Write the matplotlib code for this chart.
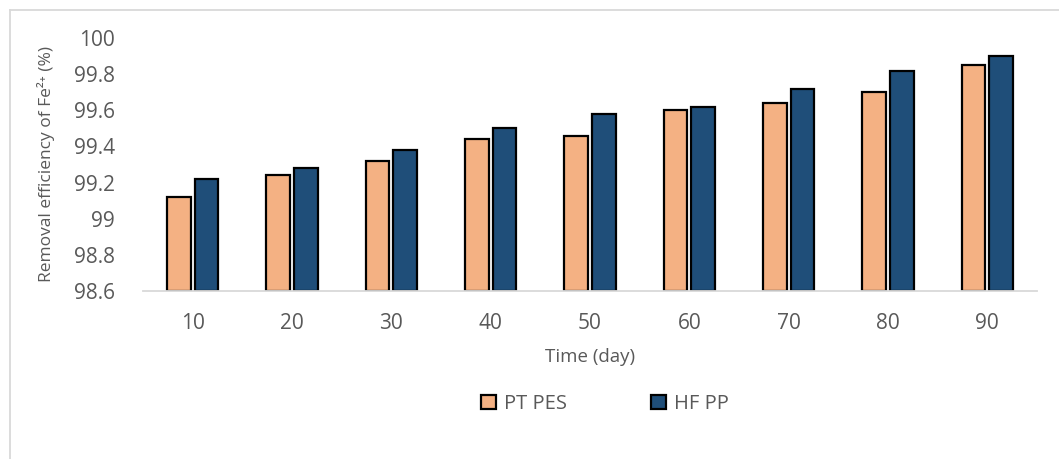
import numpy as np
import matplotlib
matplotlib.use("Agg")
import matplotlib.pyplot as plt
from matplotlib.lines import Line2D

# removal efficiency of Fe2+ over time for the two membranes
days = [10, 20, 30, 40, 50, 60, 70, 80, 90]
pt_pes = [99.12, 99.24, 99.32, 99.44, 99.46, 99.60, 99.64, 99.70, 99.85]
hf_pp = [99.22, 99.28, 99.38, 99.50, 99.58, 99.62, 99.72, 99.82, 99.90]
yticks = [98.6, 98.8, 99.0, 99.2, 99.4, 99.6, 99.8, 100.0]
ytick_labels = ["98.6", "98.8", "99", "99.2", "99.4", "99.6", "99.8", "100"]

TXT = "#595959"
plt.rcParams["font.family"] = ["Open Sans", "DejaVu Sans"]

W, H = 1059, 459
fig = plt.figure(figsize=(W / 100, H / 100), dpi=100)
ax = fig.add_axes([143 / W, 1 - 291 / H, (1037 - 143) / W, (291 - 38) / H])

x = np.arange(len(days))
bw, off = 0.24, 0.14
ax.bar(x - off, np.array(pt_pes) - 98.6, bw, bottom=98.6, color="#F4B183",
       edgecolor="black", linewidth=1.6, label="PT PES", zorder=3)
ax.bar(x + off, np.array(hf_pp) - 98.6, bw, bottom=98.6, color="#1F4E79",
       edgecolor="black", linewidth=1.6, label="HF PP", zorder=3)

ax.set_xlim(-0.5, len(days) - 0.5)
ax.set_ylim(98.6, 100.0)
ax.set_xticks(x)
ax.set_xticklabels([str(d) for d in days])
ax.set_yticks(yticks)
ax.set_yticklabels(ytick_labels)
ax.tick_params(axis="both", length=0, labelsize=15, colors=TXT)
ax.tick_params(axis="x", pad=16)
ax.tick_params(axis="y", pad=20)
for s in ["top", "right", "left"]:
    ax.spines[s].set_visible(False)
ax.spines["bottom"].set_color("#D9D9D9")
ax.spines["bottom"].set_linewidth(1.3)
ax.spines["bottom"].set_zorder(4)

ax.set_xlabel("Time (day)", fontsize=13.5, color=TXT, labelpad=10)
ax.set_ylabel("Removal efficiency of Fe²⁺ (%)", fontsize=12.5, color=TXT,
              labelpad=14)

leg = fig.legend(loc="center", bbox_to_anchor=(605 / W, 1 - 404 / H), ncol=2,
                 frameon=False, fontsize=14.5, handlelength=0.75,
                 handleheight=0.75, columnspacing=4.15, handletextpad=0.4)
for t in leg.get_texts():
    t.set_color(TXT)

# light frame around the chart area
fig.add_artist(Line2D([9.5 / W, 9.5 / W], [0, 1 - 10 / H], color="#D9D9D9",
                      lw=1.3, transform=fig.transFigure))
fig.add_artist(Line2D([9.5 / W, 1], [1 - 10 / H, 1 - 10 / H], color="#D9D9D9",
                      lw=1.3, transform=fig.transFigure))

fig.savefig("out.png", dpi=100)
